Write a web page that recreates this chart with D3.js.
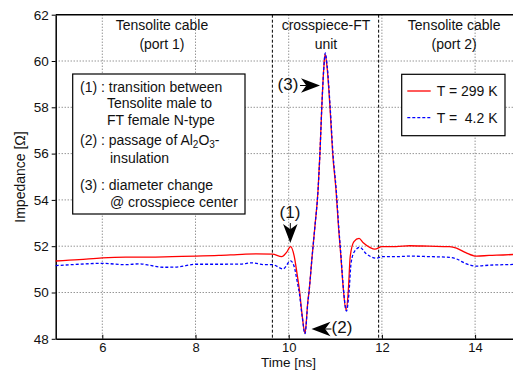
<!DOCTYPE html>
<html>
<head>
<meta charset="utf-8">
<script src="https://cdn.jsdelivr.net/npm/d3@7/dist/d3.min.js"></script>
<style>
  body { margin: 0; background: #fff; }
  svg text { font-family: "Liberation Sans", Arial, sans-serif; fill: #111; }
</style>
</head>
<body>
<div id="chart"></div>
<script>
// time axis [ns] and impedance [Ohm] for both temperatures
const tRed = [5.0, 5.5, 6.0, 6.5, 7.0, 7.5, 8.0, 8.5, 9.0, 9.3, 9.65, 9.85, 9.95, 10.04, 10.12, 10.18, 10.23, 10.29, 10.35,
  10.41, 10.44, 10.5, 10.56, 10.63, 10.67, 10.71, 10.75, 10.78, 10.82, 10.886, 10.944, 11.015, 11.07, 11.12, 11.17, 11.23,
  11.28, 11.32, 11.4, 11.51, 11.6, 11.74, 11.85, 12.0, 12.3, 12.6, 13.0, 13.45, 13.6, 13.8, 14.03, 14.3, 14.6, 15.0];
const zRed = [51.36, 51.42, 51.50, 51.53, 51.53, 51.55, 51.57, 51.60, 51.65, 51.67, 51.66, 51.55, 51.72, 51.98, 51.55, 50.8,
  50.11, 49.0, 48.24, 49.6, 50.11, 51.5, 52.8, 54.43, 56.0, 58.0, 59.6, 60.3, 59.8, 58.0, 56.0, 54.43, 52.8, 51.55, 50.2, 49.24,
  50.1, 51.55, 52.2, 52.34, 52.15, 51.95, 51.87, 51.98, 51.98, 52.02, 52.0, 51.98, 51.92, 51.72, 51.57, 51.6, 51.62, 51.66];

const tBlue = [5.0, 5.5, 6.0, 6.5, 6.8, 7.0, 7.3, 7.6, 8.0, 8.5, 9.0, 9.2, 9.5, 9.65, 9.88, 10.04, 10.12, 10.18, 10.23, 10.29,
  10.35, 10.41, 10.44, 10.5, 10.56, 10.63, 10.67, 10.71, 10.75, 10.785, 10.825, 10.89, 10.95, 11.02, 11.075, 11.125, 11.175,
  11.24, 11.29, 11.34, 11.42, 11.53, 11.65, 11.89, 12.0, 12.3, 12.6, 13.0, 13.45, 13.6, 13.8, 14.03, 14.3, 14.6, 15.0];
const zBlue = [51.16, 51.22, 51.26, 51.20, 51.24, 51.18, 51.09, 51.10, 51.22, 51.22, 51.23, 51.28, 51.20, 51.20, 51.02, 51.37,
  51.1, 50.5, 49.95, 48.95, 48.22, 49.55, 50.1, 51.5, 52.8, 54.43, 56.0, 58.0, 59.6, 60.35, 59.8, 58.0, 56.0, 54.43, 52.8,
  51.5, 50.15, 49.2, 49.9, 51.3, 51.8, 51.95, 51.7, 51.48, 51.55, 51.55, 51.57, 51.55, 51.52, 51.45, 51.25, 51.14, 51.18, 51.2, 51.22];

const xTicks = [6, 8, 10, 12, 14];
const yTicks = [48, 50, 52, 54, 56, 58, 60, 62];
const regionEdges = [9.65, 11.93];
const regionLabels = [
  { t: 7.28, lines: ["Tensolite cable", "(port 1)"] },
  { t: 10.8, lines: ["crosspiece-FT", "unit"] },
  { t: 13.55, lines: ["Tensolite cable", "(port 2)"] }
];
const seriesNames = ["T = 299 K", "T =  4.2 K"];

const W = 513, H = 370;
const FS = 14;
const svg = d3.select("#chart").append("svg").attr("width", W).attr("height", H);

const x = d3.scaleLinear().domain([5, 15]).range([55.7, 521.7]);
const y = d3.scaleLinear().domain([48, 62]).range([338.8, 14.7]);

// grid
const grid = svg.append("g").attr("stroke", "#666").attr("stroke-dasharray", "1,2").attr("stroke-width", 1);
grid.selectAll(".gx").data(xTicks).join("line")
  .attr("x1", d => x(d)).attr("x2", d => x(d)).attr("y1", y(62)).attr("y2", y(48));
grid.selectAll(".gy").data(yTicks.slice(1, -1)).join("line")
  .attr("x1", x(5)).attr("x2", W).attr("y1", d => y(d)).attr("y2", d => y(d));

// region boundaries
svg.append("g").selectAll("line").data(regionEdges).join("line")
  .attr("x1", d => x(d)).attr("x2", d => x(d)).attr("y1", y(62)).attr("y2", y(48))
  .attr("stroke", "#000").attr("stroke-dasharray", "3,2").attr("stroke-width", 1);

// axes
const xAxis = svg.append("g").attr("transform", `translate(0,${y(48)})`)
  .call(d3.axisBottom(x).tickValues(xTicks).tickSizeInner(-4).tickSizeOuter(0).tickPadding(3.5));
const yAxis = svg.append("g").attr("transform", `translate(${x(5)},0)`)
  .call(d3.axisLeft(y).tickValues(yTicks).tickSizeInner(4).tickSizeOuter(0).tickPadding(3));
[xAxis, yAxis].forEach(a => {
  a.select(".domain").attr("stroke", "#000").attr("stroke-width", 1.5);
  a.selectAll("text").attr("font-size", 13.5).attr("font-family", "Liberation Sans, Arial, sans-serif").attr("fill", "#111");
});
xAxis.selectAll("text").attr("font-size", 13);
svg.append("line").attr("x1", x(5)).attr("x2", W).attr("y1", y(62)).attr("y2", y(62))
  .attr("stroke", "#000").attr("stroke-width", 1.5);

// curves
const line = d3.line().x(d => x(d[0])).y(d => y(d[1])).curve(d3.curveMonotoneX);
svg.append("path").datum(d3.zip(tRed, zRed)).attr("d", line)
  .attr("fill", "none").attr("stroke", "#f00").attr("stroke-width", 1.3);
svg.append("path").datum(d3.zip(tBlue, zBlue)).attr("d", line)
  .attr("fill", "none").attr("stroke", "#00f").attr("stroke-width", 1.3).attr("stroke-dasharray", "3,2");

// region labels
regionLabels.forEach(r => {
  r.lines.forEach((s, i) => {
    svg.append("text").attr("x", x(r.t)).attr("y", 30 + i * 19).attr("text-anchor", "middle")
      .attr("font-size", FS).text(s);
  });
});

// annotation box
svg.append("rect").attr("x", 72.7).attr("y", 74).attr("width", 172.3).attr("height", 140)
  .attr("fill", "#fff").attr("stroke", "#000").attr("stroke-width", 1.2);
const notes = [
  { x: 80, y: 91.5, s: "(1) : transition between" },
  { x: 107, y: 107.5, s: "Tensolite male to" },
  { x: 107, y: 124.5, s: "FT female N-type" },
  { x: 110, y: 162.5, s: "insulation" },
  { x: 80, y: 189.5, s: "(3) : diameter change" },
  { x: 110, y: 207, s: "@ crosspiece center" }
];
notes.forEach(n => svg.append("text").attr("x", n.x).attr("y", n.y).attr("font-size", FS).text(n.s));
const al = svg.append("text").attr("x", 80).attr("y", 144.5).attr("font-size", FS);
al.append("tspan").text("(2) : passage of Al");
al.append("tspan").attr("font-size", 10).attr("dy", 3).text("2");
al.append("tspan").attr("dy", -3).text("O");
al.append("tspan").attr("font-size", 10).attr("dy", 3).text("3");
al.append("tspan").attr("dy", -3).text("-");

// legend
svg.append("rect").attr("x", 401.7).attr("y", 74.3).attr("width", 103.3).attr("height", 61.4)
  .attr("fill", "#fff").attr("stroke", "#000").attr("stroke-width", 1.2);
[["#f00", null], ["#00f", "3,2"]].forEach((c, i) => {
  const ly = 91 + i * 26.7;
  svg.append("line").attr("x1", 407.3).attr("x2", 430.7).attr("y1", ly).attr("y2", ly)
    .attr("stroke", c[0]).attr("stroke-width", 1.3).attr("stroke-dasharray", c[1]);
  svg.append("text").attr("x", 436.7).attr("y", ly + 5).attr("font-size", FS)
    .style("white-space", "pre").text(seriesNames[i]);
});

// markers (1), (2), (3) with dart arrowheads
function dart(tipX, tipY, angle, len) {
  const g = svg.append("g").attr("transform", `translate(${tipX},${tipY}) rotate(${angle})`);
  g.append("path").attr("d", `M0,0 L${-len},${-len * 0.38} L${-len * 0.72},0 L${-len},${len * 0.38} Z`).attr("fill", "#000");
  g.append("line").attr("x1", -len * 0.72).attr("x2", -len * 1.05).attr("y1", 0).attr("y2", 0).attr("stroke", "#000");
}
svg.append("text").attr("x", 290).attr("y", 217.5).attr("text-anchor", "middle").attr("font-size", 17).text("(1)");
dart(290.3, 243, 90, 19);
svg.append("text").attr("x", 342).attr("y", 332.5).attr("text-anchor", "middle").attr("font-size", 17).text("(2)");
dart(311.5, 329, 180, 19);
svg.append("text").attr("x", 288).attr("y", 89.5).attr("text-anchor", "middle").attr("font-size", 17).text("(3)");
dart(320, 85.5, 0, 19);

// axis titles
svg.append("text").attr("x", 288.5).attr("y", 367).attr("text-anchor", "middle").attr("font-size", 13.5).text("Time [ns]");
svg.append("text").attr("transform", "translate(25,177) rotate(-90)").attr("text-anchor", "middle")
  .attr("font-size", FS).text("Impedance [Ω]");
</script>
</body>
</html>
